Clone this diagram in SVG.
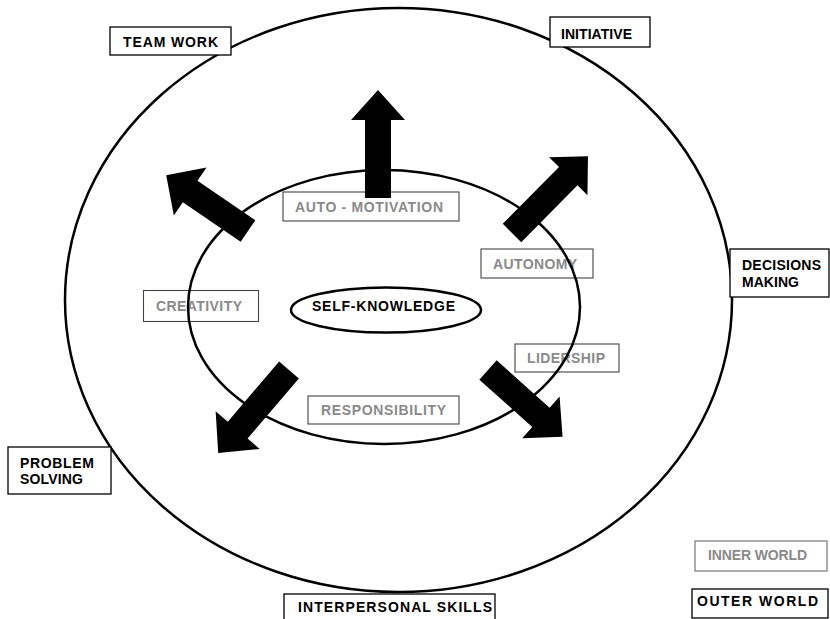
<svg xmlns="http://www.w3.org/2000/svg" width="830" height="619" viewBox="0 0 830 619">
<style>
text{font-family:"Liberation Sans",Arial,sans-serif;font-weight:bold;font-size:14px}
.ot{fill:#000}
.it{fill:#8a8a8a}
.ob{fill:#fff;stroke:#000;stroke-width:1.3}
.ib{fill:#fff;stroke:#444;stroke-width:1.1}
.gb{fill:#fff;stroke:#808080;stroke-width:1.3}
.el{fill:none;stroke:#000;stroke-width:2.5}
.ar{fill:#000}
</style>
<rect width="830" height="619" fill="#fff"/>
<g id="outer-ellipse"><ellipse class="el" cx="398.5" cy="300" rx="333.5" ry="292"/></g>
<g id="team-work"><rect class="ob" x="110" y="27" width="121" height="28"/><text class="ot" x="123" y="47" textLength="95" lengthAdjust="spacing">TEAM WORK</text></g>
<g id="initiative"><rect class="ob" x="550" y="17" width="100" height="30"/><text class="ot" x="561" y="39" textLength="71" lengthAdjust="spacing">INITIATIVE</text></g>
<g id="decisions-making"><rect class="ob" x="730" y="249" width="99" height="48"/><text class="ot" x="742" y="270" textLength="79" lengthAdjust="spacing">DECISIONS</text><text class="ot" x="742" y="287" textLength="57" lengthAdjust="spacing">MAKING</text></g>
<g id="problem-solving"><rect class="ob" x="8" y="447" width="103" height="47"/><text class="ot" x="20" y="468" textLength="74" lengthAdjust="spacing">PROBLEM</text><text class="ot" x="20" y="484" textLength="63" lengthAdjust="spacing">SOLVING</text></g>
<g id="interpersonal-skills"><rect class="ob" x="284" y="594" width="211" height="30"/><text class="ot" x="298" y="612" textLength="194" lengthAdjust="spacing">INTERPERSONAL SKILLS</text></g>
<g id="inner-world"><rect class="gb" x="695" y="541" width="132" height="30"/><text class="it" x="708" y="560" textLength="99" lengthAdjust="spacing">INNER WORLD</text></g>
<g id="outer-world"><rect class="ob" x="692" y="589" width="136" height="29"/><text class="ot" x="697" y="606" textLength="121" lengthAdjust="spacing">OUTER WORLD</text></g>
<g id="auto-motivation"><rect class="ib" x="283" y="192" width="176" height="29"/><text class="it" x="295" y="212" textLength="148" lengthAdjust="spacing">AUTO - MOTIVATION</text></g>
<g id="creativity"><rect class="ib" x="143.5" y="290.5" width="115" height="31"/><text class="it" x="156" y="311" textLength="86" lengthAdjust="spacing">CREATIVITY</text></g>
<g id="autonomy"><rect class="ib" x="481" y="249" width="112" height="29"/><text class="it" x="493" y="269" textLength="84" lengthAdjust="spacing">AUTONOMY</text></g>
<g id="lidership"><rect class="ib" x="515" y="344" width="104" height="28"/><text class="it" x="527" y="363" textLength="78" lengthAdjust="spacing">LIDERSHIP</text></g>
<g id="responsibility"><rect class="ib" x="308" y="396" width="151" height="28"/><text class="it" x="321" y="415" textLength="125" lengthAdjust="spacing">RESPONSIBILITY</text></g>
<g id="inner-ellipse"><ellipse class="el" cx="384" cy="307" rx="196" ry="137"/></g>
<g id="self-knowledge"><ellipse class="el" cx="386" cy="310" rx="95" ry="22.5"/><text class="ot" x="312" y="311" textLength="143" lengthAdjust="spacing">SELF-KNOWLEDGE</text></g>
<g id="connectors">
<path class="ar" transform="translate(378,198) rotate(-90)" d="M0,-13 H78 V-27 L108,0 L78,27 V13 H0 Z"/>
<path class="ar" transform="translate(248,231) rotate(214.3)" d="M0,-13 H70 V-29 L99,0 L70,29 V13 H0 Z"/>
<path class="ar" transform="translate(512,233) rotate(-45.3)" d="M0,-13 H80 V-27 L108,0 L80,27 V13 H0 Z"/>
<path class="ar" transform="translate(289,370) rotate(130.5)" d="M0,-13 H79 V-29 L109,0 L79,29 V13 H0 Z"/>
<path class="ar" transform="translate(488,370) rotate(41.8)" d="M0,-13 H71 V-28 L100,0 L71,28 V13 H0 Z"/>
</g>
</svg>
